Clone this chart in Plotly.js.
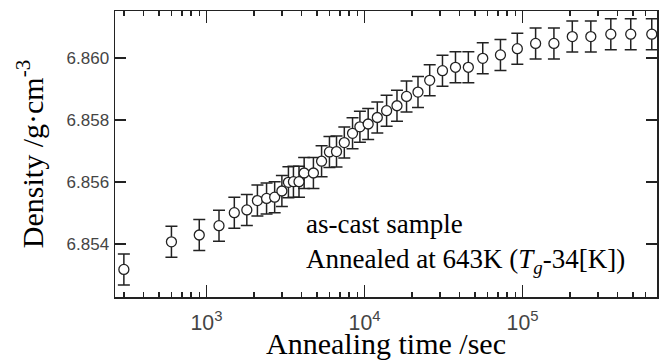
<!DOCTYPE html>
<html>
<head>
<meta charset="utf-8">
<script src="https://cdn.plot.ly/plotly-3.0.1.min.js"></script>
<style>html,body{margin:0;padding:0;background:#fff;}#chart{width:662px;height:360px;}</style>
</head>
<body>
<div id="chart"></div>
<script>
const annealTime = [300, 600, 900, 1200, 1500, 1800, 2100, 2400, 2700, 3000, 3300, 3550, 3850, 4150, 4750, 5350, 6000, 6650, 7450, 8400, 9350, 10550, 12050, 13800, 16050, 18450, 21800, 25850, 31150, 37650, 45400, 56000, 72500, 92700, 121000, 158000, 206500, 270500, 362000, 484000, 657500];
const density = [6.85318, 6.85407, 6.85429, 6.85459, 6.85501, 6.85510, 6.85540, 6.85547, 6.85551, 6.85571, 6.85599, 6.85601, 6.85601, 6.85629, 6.85629, 6.85667, 6.85697, 6.85698, 6.85727, 6.85757, 6.85778, 6.85787, 6.85808, 6.85830, 6.85846, 6.85876, 6.85890, 6.85928, 6.85959, 6.85970, 6.85970, 6.85999, 6.86010, 6.86030, 6.86047, 6.86047, 6.86069, 6.86069, 6.86077, 6.86077, 6.86077];
const densityError = 0.0005;
const yTickVals = [6.854, 6.856, 6.858, 6.860];
const yTickText = ['6.854', '6.856', '6.858', '6.860'];

const serif = 'Liberation Serif, Times New Roman, serif';
const sans = 'Liberation Sans, Arial, sans-serif';
const ink = '#222';

const trace = {
  x: annealTime,
  y: density,
  type: 'scatter',
  mode: 'markers',
  marker: {symbol: 'circle', size: 10, color: '#fff', line: {color: ink, width: 1.3}},
  error_y: {type: 'constant', value: densityError, visible: true, color: ink, thickness: 1.5, width: 6},
  showlegend: false
};

const layout = {
  width: 662, height: 360,
  margin: {l: 115, r: 5, t: 11, b: 63},
  paper_bgcolor: '#fff', plot_bgcolor: '#fff',
  xaxis: {
    type: 'log',
    range: [2.421, 5.851],
    tickmode: 'linear', tick0: 0, dtick: 1,
    exponentformat: 'power',
    showexponent: 'all',
    ticks: 'inside', ticklen: 12, tickwidth: 1.5, tickcolor: ink,
    minor: {ticks: 'inside', ticklen: 5, tickwidth: 1.5, tickcolor: ink, dtick: 'D1', showgrid: false},
    showline: true, linecolor: ink, linewidth: 1.5, mirror: 'allticks',
    showgrid: false, zeroline: false,
    tickfont: {family: sans, size: 17, color: '#444'},
    ticklabelstandoff: 7,
    title: {text: 'Annealing time /sec', font: {family: serif, size: 30, color: '#000'}, standoff: 2}
  },
  yaxis: {
    range: [6.85229, 6.861516],
    tickmode: 'array',
    tickvals: yTickVals,
    ticktext: yTickText,
    ticks: 'inside', ticklen: 11, tickwidth: 1.5, tickcolor: ink,
    showline: true, linecolor: ink, linewidth: 1.5, mirror: 'allticks',
    showgrid: false, zeroline: false,
    tickfont: {family: sans, size: 17, color: '#444'},
    ticklabelstandoff: 1,
    title: {text: 'Density /g·cm<sup>-3</sup>', font: {family: serif, size: 30, color: '#000'}, standoff: 14}
  },
  annotations: [{
    xref: 'paper', yref: 'paper',
    x: 0.3487, y: 0.187, xanchor: 'left', yanchor: 'middle', align: 'left',
    showarrow: false,
    text: 'as-cast sample<br>Annealed at 643K (<i>T<sub>g</sub></i>-34[K])',
    font: {family: serif, size: 27, color: '#000'}
  }]
};

Plotly.newPlot('chart', [trace], layout, {displayModeBar: false, staticPlot: true});
</script>
</body>
</html>
